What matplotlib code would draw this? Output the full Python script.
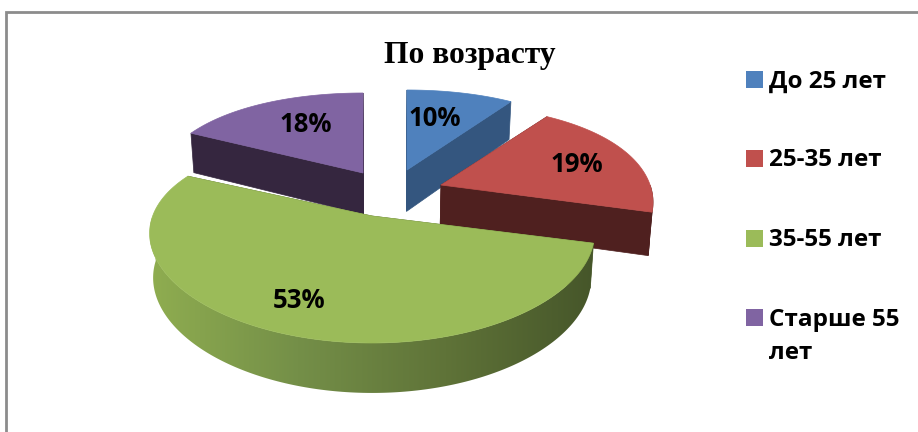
import numpy as np
import matplotlib
matplotlib.use('Agg')
import matplotlib.pyplot as plt
from matplotlib.colors import LinearSegmentedColormap
from matplotlib.patches import Polygon, Rectangle

title = 'По возрасту'
labels = ['До 25 лет', '25-35 лет', '35-55 лет', 'Старше 55\nлет']
shares = [10, 19, 53, 18]

colors = ['#4F81BD', '#C0504D', '#9BBB59', '#8064A2']
sides = ['#34567F', '#4F201F', '#4A5A2A', '#35263F']
apex = [(407, 170), (441, 185), (372, 216), (363, 173)]
scale = [1.0, 1.02, 1.07, 1.0]
label_pos = [(435, 118), (577, 165), (299, 301), (306, 124)]
legend_y = [79.5, 158.5, 238.5, 317.5]

RX, RY, KX, KY = 205, 103.5, 0.17, 0.227


def top_pts(i, t):
  # t in radians, clockwise from 12 o'clock
  c = np.cos(t)
  x = apex[i][0] + scale[i] * RX * np.sin(t) * (1 - KX * c)
  y = apex[i][1] - RY * c * (1 - KY * c)
  return x, y


def drop(x, y):
  # same points on the lower face of the slice
  return 385 + (x - 385) * 0.985, y + 38 + (y - 104) * 0.05


def face(ax, xs, ys, color, z):
  xb, yb = drop(xs, ys)
  pts = np.vstack([np.c_[xs, ys], np.c_[xb, yb][::-1]])
  p = Polygon(pts, closed=True, fc=color, ec=color, lw=0.5, zorder=z)
  ax.add_patch(p)
  return p


fig = plt.figure(figsize=(9.18, 4.32), dpi=100)
ax = fig.add_axes([0, 0, 1, 1])

ends = np.cumsum(shares) / sum(shares) * 2 * np.pi
starts = np.r_[0, ends[:-1]]
order = [0, 3, 1, 2]  # back slices first

side_cmap = LinearSegmentedColormap.from_list(
  'side', ['#8FAD50', '#748F48', '#5F7338', '#46562A'])

for n, i in enumerate(order):
  z = 2 + n * 3
  t = np.linspace(starts[i], ends[i], 200)
  x, y = top_pts(i, t)
  ax0, ay0 = apex[i]
  # the two cut faces
  face(ax, np.array([ax0, x[0]]), np.array([ay0, y[0]]), sides[i], z)
  face(ax, np.array([ax0, x[-1]]), np.array([ay0, y[-1]]), sides[i], z)
  # outer rim, only the part facing us
  front = np.cos(t) < 0
  if front.any():
    rim = face(ax, x[front], y[front], sides[i], z + 1)
    if i == 2:
      rim.set_facecolor('none')
      rim.set_edgecolor('none')
      grad = np.linspace(0, 1, 256).reshape(1, -1)
      im = ax.imshow(grad, cmap=side_cmap, extent=(x.min(), x.max(), 420, 200),
                     aspect='auto', zorder=z + 1)
      im.set_clip_path(rim)
  # top
  pts = np.vstack([[ax0, ay0], np.c_[x, y]])
  ax.add_patch(Polygon(pts, closed=True, fc=colors[i], ec=colors[i], lw=0.5, zorder=z + 2))

for i, v in enumerate(shares):
  ax.text(label_pos[i][0], label_pos[i][1], '%d%%' % v, ha='center', va='center',
          family='Open Sans', weight='bold', fontsize=18.5, color='black', zorder=30)

ax.text(469.5, 55, title, ha='center', va='center', family='Liberation Serif',
        weight='bold', fontsize=22.7, color='black', zorder=30)

for i, lab in enumerate(labels):
  ax.add_patch(Rectangle((746, legend_y[i] - 8.5), 17, 17, fc=colors[i], ec='none'))
  ax.text(769, legend_y[i] - 10, lab, ha='left', va='top', family='Open Sans',
          weight='bold', fontsize=17.5, color='black', linespacing=1.55)

# frame
ax.plot([5.5, 5.5, 918], [432, 11.5, 11.5], color='#8C8C8C', lw=2, solid_joinstyle='miter')

ax.set_xlim(0, 918)
ax.set_ylim(432, 0)
ax.axis('off')

fig.savefig('out.png', dpi=100)
